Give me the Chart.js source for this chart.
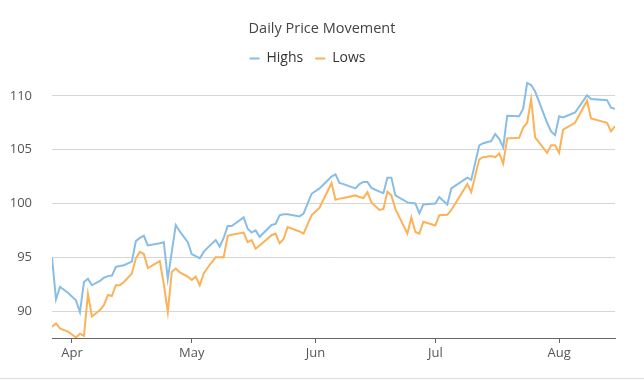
<!DOCTYPE html>
<html>
<head>
<meta charset="utf-8">
<script src="https://cdn.jsdelivr.net/npm/chart.js@4/dist/chart.umd.min.js"></script>
<style>
  html, body { margin: 0; padding: 0; background: #fff; }
  #wrap { width: 644px; height: 382px; position: relative; }
  #wrap:after { content: ""; position: absolute; left: 0; right: 0; top: 378px; height: 1px; background: #dcdcdc; }
</style>
</head>
<body>
<div id="wrap"><canvas id="c" width="644" height="382"></canvas></div>
<script>
const dates = [
  '2019-03-27','2019-03-28','2019-03-29','2019-03-31','2019-04-02','2019-04-03','2019-04-04','2019-04-05',
  '2019-04-06','2019-04-08','2019-04-09','2019-04-10','2019-04-11','2019-04-12','2019-04-13','2019-04-14',
  '2019-04-16','2019-04-17','2019-04-18','2019-04-19','2019-04-20','2019-04-23','2019-04-24','2019-04-25',
  '2019-04-26','2019-04-27','2019-04-28','2019-04-30','2019-05-01','2019-05-02','2019-05-03','2019-05-04',
  '2019-05-05','2019-05-07','2019-05-08','2019-05-09','2019-05-10','2019-05-11','2019-05-14','2019-05-15',
  '2019-05-16','2019-05-17','2019-05-18','2019-05-21','2019-05-22','2019-05-23','2019-05-24','2019-05-25',
  '2019-05-28','2019-05-29','2019-05-31','2019-06-02','2019-06-05','2019-06-06','2019-06-07','2019-06-08',
  '2019-06-11','2019-06-12','2019-06-13','2019-06-14','2019-06-15','2019-06-17','2019-06-18','2019-06-19',
  '2019-06-20','2019-06-21','2019-06-24','2019-06-25','2019-06-26','2019-06-27','2019-06-28','2019-07-01',
  '2019-07-02','2019-07-04','2019-07-05','2019-07-09','2019-07-10','2019-07-12','2019-07-13','2019-07-15',
  '2019-07-16','2019-07-17','2019-07-18','2019-07-19','2019-07-22','2019-07-23','2019-07-24','2019-07-25',
  '2019-07-26','2019-07-29','2019-07-30','2019-07-31','2019-08-01','2019-08-02','2019-08-05','2019-08-08',
  '2019-08-09','2019-08-13','2019-08-14','2019-08-15'
];
const highs = [
  95.0, 91.1, 92.25, 91.7, 91.0, 89.9, 92.7, 93.0,
  92.4, 92.8, 93.1, 93.25, 93.3, 94.1, 94.2, 94.26,
  94.6, 96.5, 96.8, 97.0, 96.1, 96.3, 96.4, 93.0,
  95.5, 98.0, 97.4, 96.4, 95.3, 95.1, 94.9, 95.5,
  95.9, 96.6, 96.0, 96.8, 97.9, 97.9, 98.7, 97.65,
  97.3, 97.5, 96.9, 98.0, 98.1, 98.9, 99.0, 99.0,
  98.8, 99.05, 100.9, 101.4, 102.5, 102.7, 101.9, 101.8,
  101.4, 101.8, 102.0, 102.0, 101.45, 101.1, 100.95, 102.4,
  102.4, 100.75, 100.1, 100.05, 100.0, 99.1, 99.9, 100.0,
  100.6, 99.9, 101.4, 102.4, 102.2, 105.4, 105.6, 105.8,
  106.45, 106.0, 105.2, 108.15, 108.1, 108.8, 111.2, 111.0,
  110.4, 107.5, 106.7, 106.35, 108.1, 108.0, 108.45, 110.05,
  109.7, 109.6, 108.9, 108.8
];
const lows = [
  88.55, 88.86, 88.4, 88.1, 87.55, 87.9, 87.7, 91.6,
  89.5, 90.1, 90.55, 91.5, 91.4, 92.4, 92.4, 92.7,
  93.5, 94.9, 95.5, 95.3, 94.0, 94.65, 92.5, 89.9,
  93.65, 93.95, 93.6, 93.2, 92.9, 93.2, 92.4, 93.5,
  94.05, 95.0, 95.0, 95.0, 97.0, 97.1, 97.3, 96.4,
  96.6, 95.8, 96.1, 97.05, 97.2, 96.3, 96.7, 97.8,
  97.4, 97.2, 98.9, 99.6, 101.9, 100.35, 100.45, 100.5,
  100.75, 100.6, 100.5, 101.05, 100.1, 99.4, 99.5, 101.1,
  100.75, 99.5, 97.2, 98.7, 97.35, 97.2, 98.3, 97.96,
  98.9, 98.95, 99.4, 101.8, 101.05, 104.1, 104.3, 104.4,
  104.3, 104.65, 103.7, 106.05, 106.1, 107.05, 107.5, 109.7,
  106.15, 104.7, 105.4, 105.4, 104.7, 106.85, 107.5, 109.55,
  107.9, 107.5, 106.7, 107.2
];
const monthTicks = ['2019-04-01','2019-05-01','2019-06-01','2019-07-01','2019-08-01'];
const monthLabels = ['Apr','May','Jun','Jul','Aug'];
const yTicks = [90, 95, 100, 105, 110];
const seriesNames = ['Highs', 'Lows'];
const chartTitle = 'Daily Price Movement';

const toDay = s => Date.parse(s + 'T00:00:00Z') / 86400000;
const FONT = "'Open Sans', sans-serif";

// center the title over the full canvas width (legend stays centered over the axes area)
const titleCenter = {
  id: 'titleCenter',
  afterLayout(chart) {
    const t = chart.titleBlock;
    if (t) { t.left = 0; t.right = chart.width; t.width = chart.width; }
  }
};

new Chart(document.getElementById('c'), {
  type: 'line',
  data: {
    datasets: [
      { label: seriesNames[0], data: dates.map((d, i) => ({ x: toDay(d), y: highs[i] })),
        borderColor: '#88bde6', backgroundColor: '#88bde6', borderWidth: 2, pointRadius: 0, tension: 0 },
      { label: seriesNames[1], data: dates.map((d, i) => ({ x: toDay(d), y: lows[i] })),
        borderColor: '#fbb258', backgroundColor: '#fbb258', borderWidth: 2, pointRadius: 0, tension: 0 }
    ]
  },
  plugins: [titleCenter],
  options: {
    responsive: false,
    animation: false,
    events: [],
    layout: { padding: { left: 0, right: 29, top: 0, bottom: 14 } },
    plugins: {
      title: { display: true, text: chartTitle, color: '#444',
        font: { family: FONT, size: 14.5, weight: 'normal' }, padding: { top: 20, bottom: 2 } },
      legend: { display: true,
        labels: { usePointStyle: true, pointStyle: 'line', pointStyleWidth: 10, boxHeight: 10,
          color: '#333', font: { family: FONT, size: 14 }, padding: 12 } },
      tooltip: { enabled: false }
    },
    scales: {
      x: {
        type: 'linear',
        min: toDay(dates[0]), max: toDay(dates[dates.length - 1]),
        afterBuildTicks: s => { s.ticks = monthTicks.map(d => ({ value: toDay(d) })); },
        afterFit: s => { s.height = 30; },
        ticks: { autoSkip: false, maxRotation: 0, padding: 2, color: '#555',
          font: { family: FONT, size: 13 }, callback: (v, i) => monthLabels[i] },
        grid: { drawOnChartArea: false, drawTicks: true, tickLength: 5, color: '#666' },
        border: { display: true, color: '#666', width: 1 }
      },
      y: {
        min: 87.5, max: 111.9,
        afterBuildTicks: s => { s.ticks = yTicks.map(v => ({ value: v })); },
        afterFit: s => { s.width = 52; },
        ticks: { padding: 20, color: '#555', font: { family: FONT, size: 13 } },
        grid: { color: '#d6d6d6', drawTicks: false },
        border: { display: false }
      }
    }
  }
});
</script>
</body>
</html>
